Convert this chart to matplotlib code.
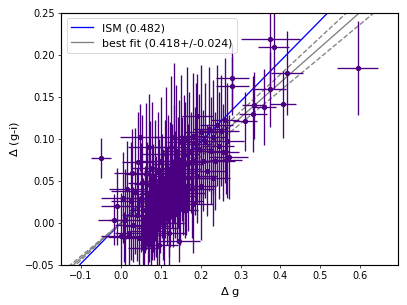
import numpy as np
import matplotlib
matplotlib.use('Agg')
import matplotlib.pyplot as plt

# delta g, delta (g-i) and their errors
dg = [0.594, 0.375, 0.383, 0.279, 0.279, 0.417, 0.375, 0.407, 0.358, 0.333,
      0.332, 0.311, 0.192, 0.048, 0.133, -0.050, 0.1625, 0.146, 0.0775, -0.017,
      0.007, 0.2625, 0.083,
      0.010, 0.020, 0.025, 0.030, 0.035, 0.040, 0.045, 0.050, 0.052, 0.055,
      0.060, 0.062, 0.065, 0.068, 0.070, 0.072, 0.075, 0.078, 0.080, 0.082,
      0.085, 0.088, 0.090, 0.092, 0.095, 0.098, 0.100, 0.102, 0.105, 0.108,
      0.110, 0.112, 0.115, 0.118, 0.120, 0.122, 0.125, 0.128, 0.130, 0.132,
      0.135, 0.138, 0.140, 0.142, 0.145, 0.148, 0.150, 0.152, 0.155, 0.158,
      0.160, 0.162, 0.165, 0.168, 0.170, 0.175, 0.178, 0.180, 0.185, 0.188,
      0.190, 0.195, 0.200, 0.205, 0.210, 0.215, 0.220, 0.225, 0.230, 0.235,
      0.240, 0.245, 0.250, 0.255, 0.260, 0.265, 0.270, 0.000, -0.010, 0.015,
      0.005, 0.058, 0.095, 0.120, 0.180, 0.200, 0.230, 0.028, 0.043, 0.070]
dgi = [0.184, 0.219, 0.209, 0.173, 0.163, 0.178, 0.159, 0.141, 0.138, 0.140,
       0.130, 0.121, 0.127, 0.102, 0.102, 0.077, 0.016, -0.021, -0.014, 0.004,
       -0.017, 0.075, -0.004,
       0.004, -0.012, 0.026, -0.002, 0.038, 0.010, -0.018, 0.030, 0.048, -0.004,
       0.016, 0.058, 0.034, -0.010, 0.020, 0.046, 0.004, 0.066, 0.030, 0.008,
       0.050, 0.020, -0.006, 0.062, 0.036, 0.014, 0.074, 0.044, 0.022, 0.000,
       0.052, 0.082, 0.032, 0.064, 0.014, 0.046, 0.090, 0.056, 0.024, 0.070,
       0.046, 0.086, 0.032, 0.060, 0.074, 0.026, 0.096, 0.064, 0.044, 0.082,
       0.036, 0.070, 0.100, 0.054, 0.086, 0.072, 0.040, 0.104, 0.074, 0.094,
       0.056, 0.088, 0.108, 0.074, 0.098, 0.062, 0.112, 0.086, 0.102, 0.074,
       0.116, 0.092, 0.110, 0.084, 0.122, 0.098, 0.078, -0.016, 0.020, 0.040,
       0.030, -0.030, -0.026, -0.012, 0.022, 0.044, 0.054, 0.060, 0.072, 0.090]
dg_err = [0.051, 0.075, 0.038, 0.041, 0.041, 0.040, 0.040, 0.033, 0.030, 0.030,
          0.035, 0.030, 0.038, 0.050, 0.050, 0.026, 0.030, 0.052, 0.030, 0.040,
          0.040, 0.040, 0.040,
          0.040, 0.035, 0.050, 0.045, 0.060, 0.038, 0.042, 0.055, 0.035, 0.048,
          0.040, 0.052, 0.036, 0.045, 0.058, 0.040, 0.034, 0.050, 0.044, 0.062,
          0.038, 0.046, 0.052, 0.035, 0.048, 0.040, 0.055, 0.036, 0.044, 0.050,
          0.038, 0.060, 0.042, 0.035, 0.048, 0.052, 0.040, 0.046, 0.038, 0.055,
          0.042, 0.036, 0.050, 0.044, 0.040, 0.058, 0.035, 0.048, 0.042, 0.038,
          0.052, 0.045, 0.036, 0.050, 0.040, 0.044, 0.055, 0.038, 0.046, 0.040,
          0.050, 0.035, 0.042, 0.048, 0.038, 0.052, 0.040, 0.045, 0.036, 0.050,
          0.042, 0.038, 0.046, 0.040, 0.035, 0.044, 0.048, 0.050, 0.040, 0.045,
          0.055, 0.040, 0.048, 0.042, 0.050, 0.038, 0.044, 0.046, 0.040, 0.052]
dgi_err = [0.056, 0.060, 0.050, 0.040, 0.035, 0.050, 0.045, 0.040, 0.045, 0.040,
           0.045, 0.035, 0.050, 0.040, 0.088, 0.024, 0.030, 0.026, 0.030, 0.030,
           0.030, 0.040, 0.035,
           0.060, 0.050, 0.070, 0.045, 0.075, 0.055, 0.048, 0.065, 0.080, 0.058,
           0.052, 0.085, 0.062, 0.046, 0.066, 0.075, 0.056, 0.078, 0.064, 0.052,
           0.072, 0.060, 0.054, 0.070, 0.064, 0.050, 0.076, 0.062, 0.066, 0.052,
           0.070, 0.080, 0.058, 0.064, 0.054, 0.074, 0.085, 0.062, 0.052, 0.070,
           0.064, 0.078, 0.056, 0.066, 0.072, 0.052, 0.080, 0.062, 0.058, 0.070,
           0.054, 0.074, 0.085, 0.064, 0.070, 0.060, 0.058, 0.075, 0.064, 0.072,
           0.056, 0.066, 0.080, 0.060, 0.068, 0.054, 0.074, 0.064, 0.068, 0.058,
           0.072, 0.064, 0.066, 0.058, 0.074, 0.068, 0.050, 0.052, 0.046, 0.058,
           0.054, 0.040, 0.042, 0.052, 0.058, 0.064, 0.058, 0.052, 0.060, 0.064]

ism_slope = 0.482
fit_slope = 0.418
fit_err = 0.024

fig = plt.figure(figsize=(6.4, 4.8), dpi=63.6)
ax = fig.add_subplot(111)
fig.subplots_adjust(left=0.150, right=0.978, top=0.957, bottom=0.131)

xx = np.array([-0.2, 0.75])
ax.plot(xx, ism_slope * xx, color='blue', label='ISM (%.3f)' % ism_slope)
ax.plot(xx, fit_slope * xx, color='gray',
        label='best fit (%.3f+/-%.3f)' % (fit_slope, fit_err))
ax.plot(xx, (fit_slope + fit_err) * xx, color='gray', ls='--')
ax.plot(xx, (fit_slope - fit_err) * xx, color='gray', ls='--')

ax.errorbar(dg, dgi, xerr=dg_err, yerr=dgi_err, fmt='o', color='indigo',
            ms=5, elinewidth=1.5, capsize=0)

ax.set_xlim(-0.15, 0.695)
ax.set_ylim(-0.05, 0.25)
ax.tick_params(labelsize=11)
for s in ax.spines.values():
    s.set_linewidth(1.3)
ax.set_xlabel(r'$\Delta$ g', fontsize=13)
ax.set_ylabel(r'$\Delta$ (g-i)', fontsize=13)
ax.legend(loc='upper left', fontsize=12.5)

fig.savefig('out.png', dpi=63.6)
